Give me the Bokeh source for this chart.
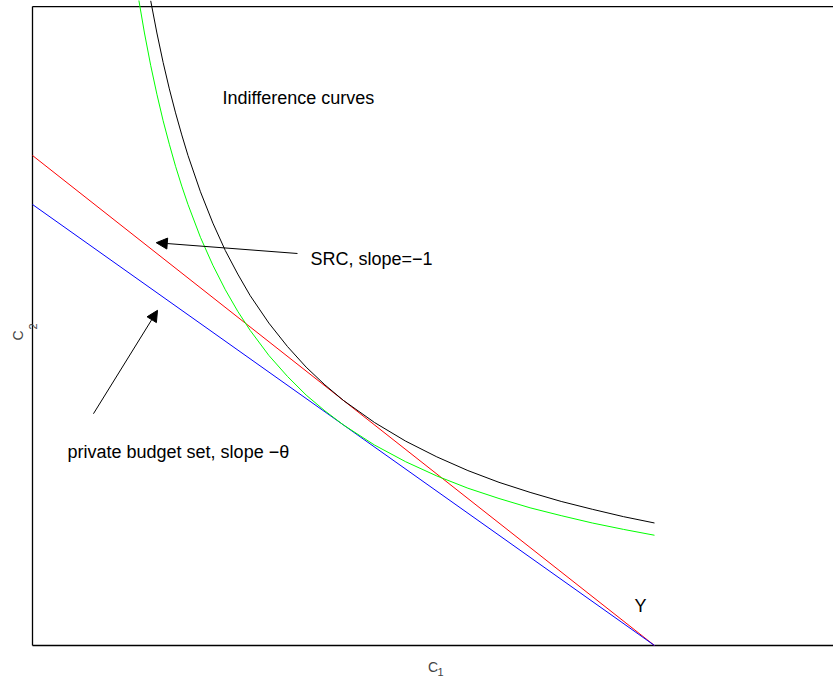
from bokeh.plotting import figure
from bokeh.models import Range1d, Label, Arrow, NormalHead
from bokeh.embed import file_html
from bokeh.resources import INLINE

# ---- data ----
c1_black = [0.19, 0.20, 0.21, 0.22, 0.23, 0.24, 0.25, 0.27, 0.29, 0.31, 0.33, 0.35,
            0.38, 0.41, 0.44, 0.47, 0.50, 0.55, 0.60, 0.65, 0.70, 0.75, 0.80, 0.85,
            0.90, 0.95, 1.00]
c2_black = [1.316, 1.25, 1.190, 1.136, 1.087, 1.042, 1.0, 0.926, 0.862, 0.806, 0.758, 0.714,
            0.658, 0.610, 0.568, 0.532, 0.5, 0.455, 0.417, 0.385, 0.357, 0.333, 0.3125, 0.294,
            0.278, 0.263, 0.25]

c1_green = [0.17, 0.18, 0.19, 0.20, 0.21, 0.22, 0.23, 0.24, 0.25, 0.27, 0.29, 0.31,
            0.33, 0.35, 0.38, 0.41, 0.44, 0.47, 0.50, 0.55, 0.60, 0.65, 0.70, 0.75,
            0.80, 0.85, 0.90, 0.95, 1.00]
c2_green = [1.324, 1.25, 1.184, 1.125, 1.071, 1.023, 0.978, 0.9375, 0.9, 0.833, 0.776, 0.726,
            0.682, 0.643, 0.592, 0.549, 0.511, 0.479, 0.45, 0.409, 0.375, 0.346, 0.321, 0.3,
            0.281, 0.265, 0.25, 0.237, 0.225]

src_c1 = [0.0, 1.0]
src_c2 = [1.0, 0.0]

budget_c1 = [0.0, 1.0]
budget_c2 = [0.9, 0.0]

# axes box limits (data units)
C1_MAX = 1.30
C2_MAX = 1.304

# annotation texts and anchor positions (data units)
texts = ["Indifference curves", "SRC, slope=\u22121", "private budget set, slope \u2212\u03b8", "Y"]
text_x = [0.3055, 0.447, 0.0563, 0.968]
text_y = [1.118, 0.788, 0.394, 0.0816]

# arrows: (x_start, y_start, x_end, y_end)
arrows = [(0.426, 0.800, 0.199, 0.822),
          (0.098, 0.473, 0.201, 0.684)]

p = figure(output_backend="svg", toolbar_location=None,
           frame_width=833, frame_height=677,
           min_border_left=0, min_border_right=0, min_border_top=0, min_border_bottom=0,
           x_range=Range1d(-0.05145, 1.2878), y_range=Range1d(-0.0653, 1.3163),
           x_axis_type=None, y_axis_type=None)
p.grid.visible = False
p.outline_line_color = None
p.background_fill_color = "white"
p.border_fill_color = "white"

# axes box (left, bottom, top)
p.segment(x0=[0, 0, 0], y0=[0, 0, C2_MAX], x1=[0, C1_MAX, C1_MAX], y1=[C2_MAX, 0, C2_MAX],
          line_color="black", line_width=1.3)

p.line(src_c1, src_c2, line_color="#ff0000", line_width=1)
p.line(budget_c1, budget_c2, line_color="#0000ff", line_width=1)
p.line(c1_green, c2_green, line_color="#00ff00", line_width=1)
p.line(c1_black, c2_black, line_color="black", line_width=1)

FONT = "Liberation Sans"
for t, x, y in zip(texts, text_x, text_y):
    p.add_layout(Label(x=x, y=y, text=t, text_font=FONT, text_font_size="18px",
                       text_color="black", text_baseline="alphabetic", text_align="left"))

for xs, ys, xe, ye in arrows:
    p.add_layout(Arrow(x_start=xs, y_start=ys, x_end=xe, y_end=ye, line_width=1,
                       line_color="black",
                       end=NormalHead(size=11, fill_color="black", line_color="black",
                                      line_width=1)))

# axis labels C1 and C2 with subscripts
p.add_layout(Label(x=0.636, y=-0.0429, text="C", text_font=FONT, text_font_size="14px",
                   text_baseline="alphabetic", text_align="left"))
p.add_layout(Label(x=0.651, y=-0.0531, text="1", text_font=FONT, text_font_size="11px",
                   text_baseline="alphabetic", text_align="left"))
p.add_layout(Label(x=-0.0241, y=0.6224, text="C", text_font=FONT, text_font_size="14px",
                   text_baseline="alphabetic", text_align="left", angle=1.5707963))
p.add_layout(Label(x=0.0, y=0.645, text="2", text_font=FONT, text_font_size="11px",
                   text_baseline="alphabetic", text_align="left", angle=1.5707963))

open("out.html", "w").write(file_html(p, INLINE))
